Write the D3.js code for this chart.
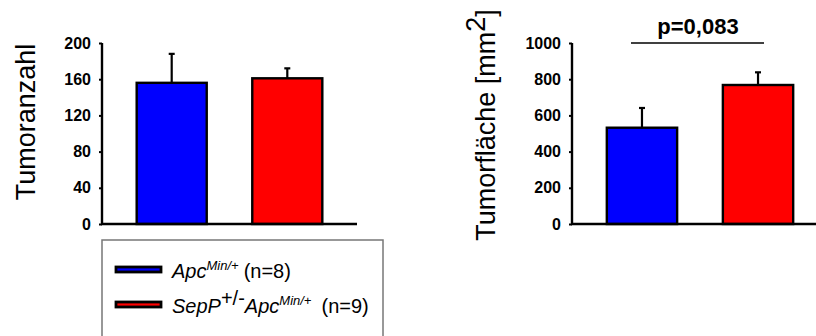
<!DOCTYPE html>
<html>
<head>
  <meta charset="utf-8" />
  <title>Tumoranzahl / Tumorfläche</title>
  <script src="https://d3js.org/d3.v7.min.js"></script>
  <style>
    body { margin: 0; background: #fff; }
    text { font-family: "Liberation Sans", Arial, sans-serif; }
  </style>
</head>
<body>
  <script>
    // data
    const groups = ["Apc", "SepP"];
    const colors = ["#0000ff", "#ff0000"];
    const anzahlMean = [156, 161];
    const anzahlErr = [188, 172];     // top of error bar
    const flaecheMean = [532, 768];
    const flaecheErr = [641, 838];
    const anzahlTicks = [0, 40, 80, 120, 160, 200];
    const flaecheTicks = [0, 200, 400, 600, 800, 1000];
    const pText = "p=0,083";

    const W = 816, H = 336;
    const svg = d3.select("body").append("svg")
      .attr("width", W).attr("height", H);

    function drawPanel(opts) {
      const y = d3.scaleLinear().domain(opts.domain).range([224, 43]);
      const x = d3.scaleBand().domain(groups)
        .range(opts.xr).paddingInner(0.394).paddingOuter(0.3);

      // bars
      svg.append("g").selectAll("rect")
        .data(groups).enter().append("rect")
        .attr("x", d => x(d))
        .attr("y", (d, i) => y(opts.mean[i]))
        .attr("width", x.bandwidth())
        .attr("height", (d, i) => y(0) - y(opts.mean[i]))
        .attr("fill", (d, i) => colors[i])
        .attr("stroke", "#000")
        .attr("stroke-width", 2.4);

      // error bars, upward only
      const eb = svg.append("g").attr("stroke", "#000").attr("stroke-width", 2.2);
      groups.forEach((g, i) => {
        const cx = x(g) + x.bandwidth() / 2;
        eb.append("line")
          .attr("x1", cx).attr("x2", cx)
          .attr("y1", y(opts.mean[i])).attr("y2", y(opts.err[i]));
        eb.append("line")
          .attr("x1", cx - 3).attr("x2", cx + 3)
          .attr("y1", y(opts.err[i])).attr("y2", y(opts.err[i]));
      });

      // y axis
      const ax = svg.append("g")
        .attr("transform", `translate(${opts.xr[0]},0)`)
        .call(d3.axisLeft(y).tickValues(opts.ticks).tickFormat(d3.format("d"))
          .tickSize(3).tickPadding(8).tickSizeOuter(0));
      ax.select(".domain").attr("stroke-width", 2.4).attr("d", `M0,${y(0) + 1}V${y(opts.domain[1])}`);
      ax.selectAll(".tick line").attr("stroke-width", 2);
      ax.selectAll("text")
        .style("font-size", opts.fs + "px")
        .style("font-weight", "bold")
        .attr("fill", "#000");

      // x axis line
      svg.append("line")
        .attr("x1", opts.xr[0] - 1).attr("x2", opts.xr[1])
        .attr("y1", y(0)).attr("y2", y(0))
        .attr("stroke", "#000").attr("stroke-width", 2.4);

      return { x, y };
    }

    const left = drawPanel({
      domain: [0, 200], xr: [102, 357], mean: anzahlMean, err: anzahlErr,
      ticks: anzahlTicks, fs: 16
    });
    const right = drawPanel({
      domain: [0, 1000], xr: [572, 828], mean: flaecheMean, err: flaecheErr,
      ticks: flaecheTicks, fs: 16
    });

    // y titles
    svg.append("text")
      .attr("transform", "translate(35,122) rotate(-90)")
      .attr("text-anchor", "middle")
      .style("font-size", "27px")
      .text("Tumoranzahl");

    const t2 = svg.append("text")
      .attr("transform", "translate(495,125) rotate(-90)")
      .attr("text-anchor", "middle")
      .style("font-size", "27px");
    t2.append("tspan").text("Tumorfläche [mm");
    t2.append("tspan").attr("dy", -10).text("2");
    t2.append("tspan").attr("dy", 10).text("]");

    // significance bracket
    svg.append("line")
      .attr("x1", 631).attr("x2", 764)
      .attr("y1", right.y(1000)).attr("y2", right.y(1000))
      .attr("stroke", "#000").attr("stroke-width", 1.5);
    svg.append("text")
      .attr("x", 698).attr("y", 34)
      .attr("text-anchor", "middle")
      .style("font-size", "22px")
      .style("font-weight", "bold")
      .text(pText);

    // legend
    const lg = svg.append("g");
    lg.append("rect")
      .attr("x", 102).attr("y", 240).attr("width", 281).attr("height", 110)
      .attr("fill", "none").attr("stroke", "#777").attr("stroke-width", 1.5);

    const legendY = [270, 305];
    legendY.forEach((ly, i) => {
      lg.append("rect")
        .attr("x", 116).attr("y", ly - 3).attr("width", 45).attr("height", 5)
        .attr("fill", colors[i]).attr("stroke", "#000").attr("stroke-width", 2.8);
      const t = lg.append("text").attr("x", 172).attr("y", ly + 8)
        .style("font-size", "20px");
      if (i === 0) {
        t.append("tspan").style("font-style", "italic").text("Apc");
        t.append("tspan").attr("dy", -8).style("font-style", "italic")
          .style("font-size", "13px").text("Min/+");
        t.append("tspan").attr("dy", 8).attr("dx", 5).text("(n=8)");
      } else {
        t.append("tspan").style("font-style", "italic").text("SepP");
        t.append("tspan").attr("dy", -8).style("font-size", "20px").text("+/-");
        t.append("tspan").attr("dy", 8).style("font-style", "italic").text("Apc");
        t.append("tspan").attr("dy", -8).style("font-style", "italic")
          .style("font-size", "13px").text("Min/+");
        t.append("tspan").attr("dy", 8).attr("dx", 10).text("(n=9)");
      }
    });
  </script>
</body>
</html>
